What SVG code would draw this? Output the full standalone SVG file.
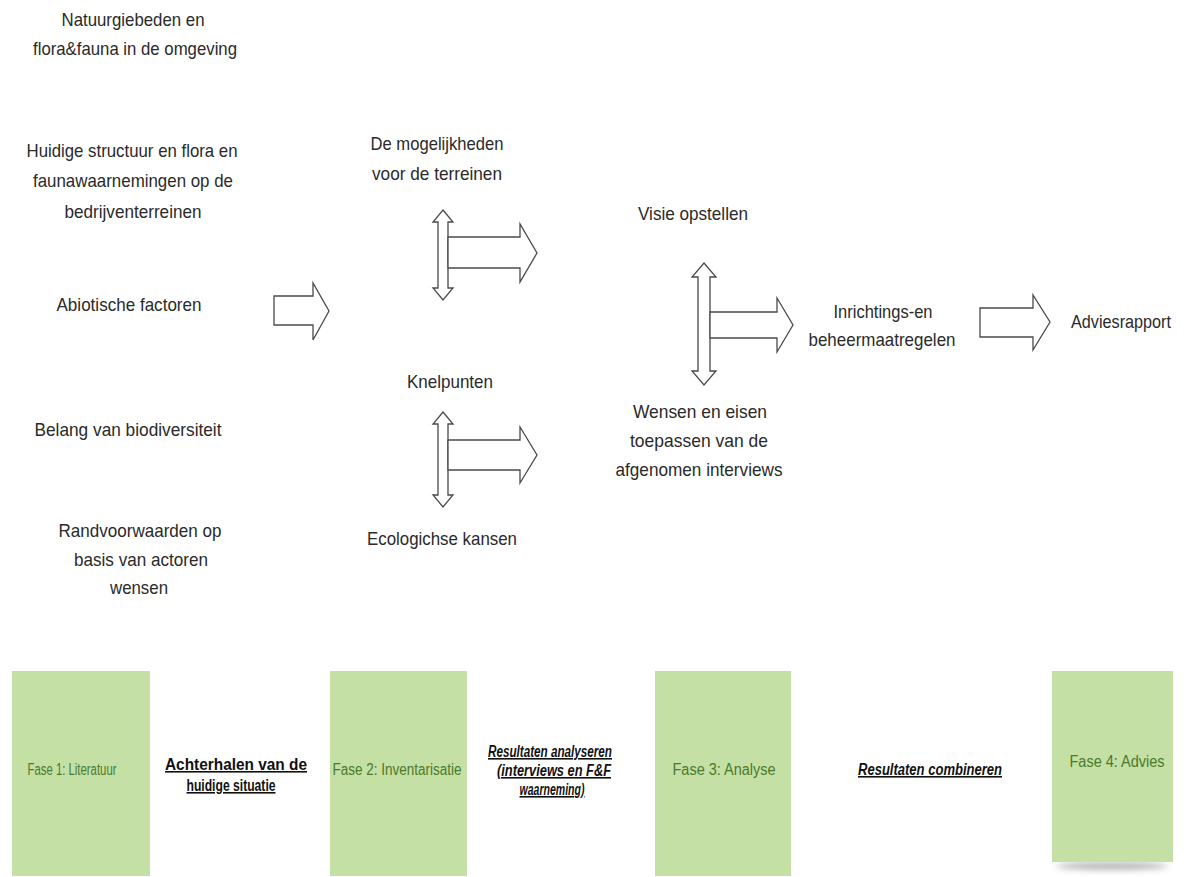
<svg xmlns="http://www.w3.org/2000/svg" width="1186" height="877" viewBox="0 0 1186 877">
<defs>
<style>
text{font-family:"Liberation Sans","DejaVu Sans",sans-serif;text-anchor:middle;fill:#2a2a2a;font-size:19px}
.ph{fill:#c5e0a4;stroke:none}
.pt{fill:#4a7a2c;font-size:16px}
.lb{font-size:16px;font-weight:bold;text-decoration:underline;fill:#111}
.it{font-style:italic}
.ar{fill:#fff;stroke:#4a4a4a;stroke-width:1.3;stroke-linejoin:miter}
</style>
<filter id="sh" x="-20%" y="-100%" width="140%" height="300%"><feGaussianBlur stdDeviation="3"/></filter>
</defs>
<rect width="1186" height="877" fill="#fff"/>

<g id="n-natuur"><text x="133" y="26" textLength="143" lengthAdjust="spacingAndGlyphs">Natuurgiebeden en</text><text x="135" y="55" textLength="204" lengthAdjust="spacingAndGlyphs">flora&amp;fauna in de omgeving</text></g>
<g id="n-huidig"><text x="132" y="157" textLength="211" lengthAdjust="spacingAndGlyphs">Huidige structuur en flora en</text><text x="133" y="187" textLength="200" lengthAdjust="spacingAndGlyphs">faunawaarnemingen op de</text><text x="133" y="218" textLength="137" lengthAdjust="spacingAndGlyphs">bedrijventerreinen</text></g>
<g id="n-abiotisch"><text x="129" y="311" textLength="145" lengthAdjust="spacingAndGlyphs">Abiotische factoren</text></g>
<g id="n-belang"><text x="128" y="436" textLength="187" lengthAdjust="spacingAndGlyphs">Belang van biodiversiteit</text></g>
<g id="n-rand"><text x="140" y="537" textLength="163" lengthAdjust="spacingAndGlyphs">Randvoorwaarden op</text><text x="141" y="566" textLength="134" lengthAdjust="spacingAndGlyphs">basis van actoren</text><text x="139" y="594" textLength="58" lengthAdjust="spacingAndGlyphs">wensen</text></g>

<g id="n-mogelijk"><text x="437" y="150" textLength="133" lengthAdjust="spacingAndGlyphs">De mogelijkheden</text><text x="437" y="180" textLength="130" lengthAdjust="spacingAndGlyphs">voor de terreinen</text></g>
<g id="n-knel"><text x="450" y="388" textLength="86" lengthAdjust="spacingAndGlyphs">Knelpunten</text></g>
<g id="n-eco"><text x="442" y="545" textLength="150" lengthAdjust="spacingAndGlyphs">Ecologichse kansen</text></g>
<g id="n-visie"><text x="693" y="220" textLength="110" lengthAdjust="spacingAndGlyphs">Visie opstellen</text></g>
<g id="n-wensen"><text x="700" y="418" textLength="134" lengthAdjust="spacingAndGlyphs">Wensen en eisen</text><text x="699" y="447" textLength="138" lengthAdjust="spacingAndGlyphs">toepassen van de</text><text x="699" y="476" textLength="167" lengthAdjust="spacingAndGlyphs">afgenomen interviews</text></g>
<g id="n-inricht"><text x="883" y="318" textLength="99" lengthAdjust="spacingAndGlyphs">Inrichtings-en</text><text x="882" y="346" textLength="147" lengthAdjust="spacingAndGlyphs">beheermaatregelen</text></g>
<g id="n-advies"><text x="1121" y="328" textLength="100" lengthAdjust="spacingAndGlyphs">Adviesrapport</text></g>

<g id="connectors">
<polygon class="ar" points="274,296 313,296 313,283 329,311 313,340 313,325 274,325"/>
<polygon class="ar" points="443,210 453,222 448,222 448,288 453,288 443,300 433,288 438,288 438,222 433,222"/>
<polygon class="ar" points="448,237 520,237 520,224 537,253 520,282 520,268 448,268"/>
<polygon class="ar" points="443,412 453,424 448,424 448,495 453,495 443,507 433,495 438,495 438,424 433,424"/>
<polygon class="ar" points="448,440 520,440 520,427 537,455 520,483 520,470 448,470"/>
<polygon class="ar" points="704,263 716,277 710,277 710,371 716,371 704,385 692,371 698,371 698,277 692,277"/>
<polygon class="ar" points="710,312 777,312 777,298 793,325 777,352 777,338 710,338"/>
<polygon class="ar" points="980,308 1033,308 1033,295 1050,322 1033,350 1033,337 980,337"/>
</g>

<g id="fase1"><rect class="ph" x="12" y="671" width="138" height="205"/><text class="pt" x="72" y="775" textLength="89" lengthAdjust="spacingAndGlyphs">Fase 1: Literatuur</text></g>
<g id="l-achter"><text class="lb" x="236" y="770" textLength="142" lengthAdjust="spacingAndGlyphs">Achterhalen van de</text><text class="lb" x="231" y="791" textLength="89" lengthAdjust="spacingAndGlyphs">huidige situatie</text></g>
<g id="fase2"><rect class="ph" x="330" y="671" width="137" height="205"/><text class="pt" x="397" y="775" textLength="129" lengthAdjust="spacingAndGlyphs">Fase 2: Inventarisatie</text></g>
<g id="l-result"><text class="lb it" x="550" y="757" textLength="124" lengthAdjust="spacingAndGlyphs">Resultaten analyseren</text><text class="lb it" x="554" y="776" textLength="114" lengthAdjust="spacingAndGlyphs">(interviews en F&amp;F</text><text class="lb it" x="552" y="795" textLength="65" lengthAdjust="spacingAndGlyphs">waarneming)</text></g>
<g id="fase3"><rect class="ph" x="655" y="671" width="136" height="205"/><text class="pt" x="724" y="775" textLength="103" lengthAdjust="spacingAndGlyphs">Fase 3: Analyse</text></g>
<g id="l-comb"><text class="lb it" x="930" y="775" textLength="144" lengthAdjust="spacingAndGlyphs">Resultaten combineren</text></g>
<g id="fase4"><ellipse cx="1112" cy="866" rx="56" ry="4" fill="#888" opacity="0.6" filter="url(#sh)"/><rect class="ph" x="1052" y="671" width="121" height="191"/><text class="pt" x="1117" y="767" textLength="95" lengthAdjust="spacingAndGlyphs">Fase 4: Advies</text></g>
</svg>
